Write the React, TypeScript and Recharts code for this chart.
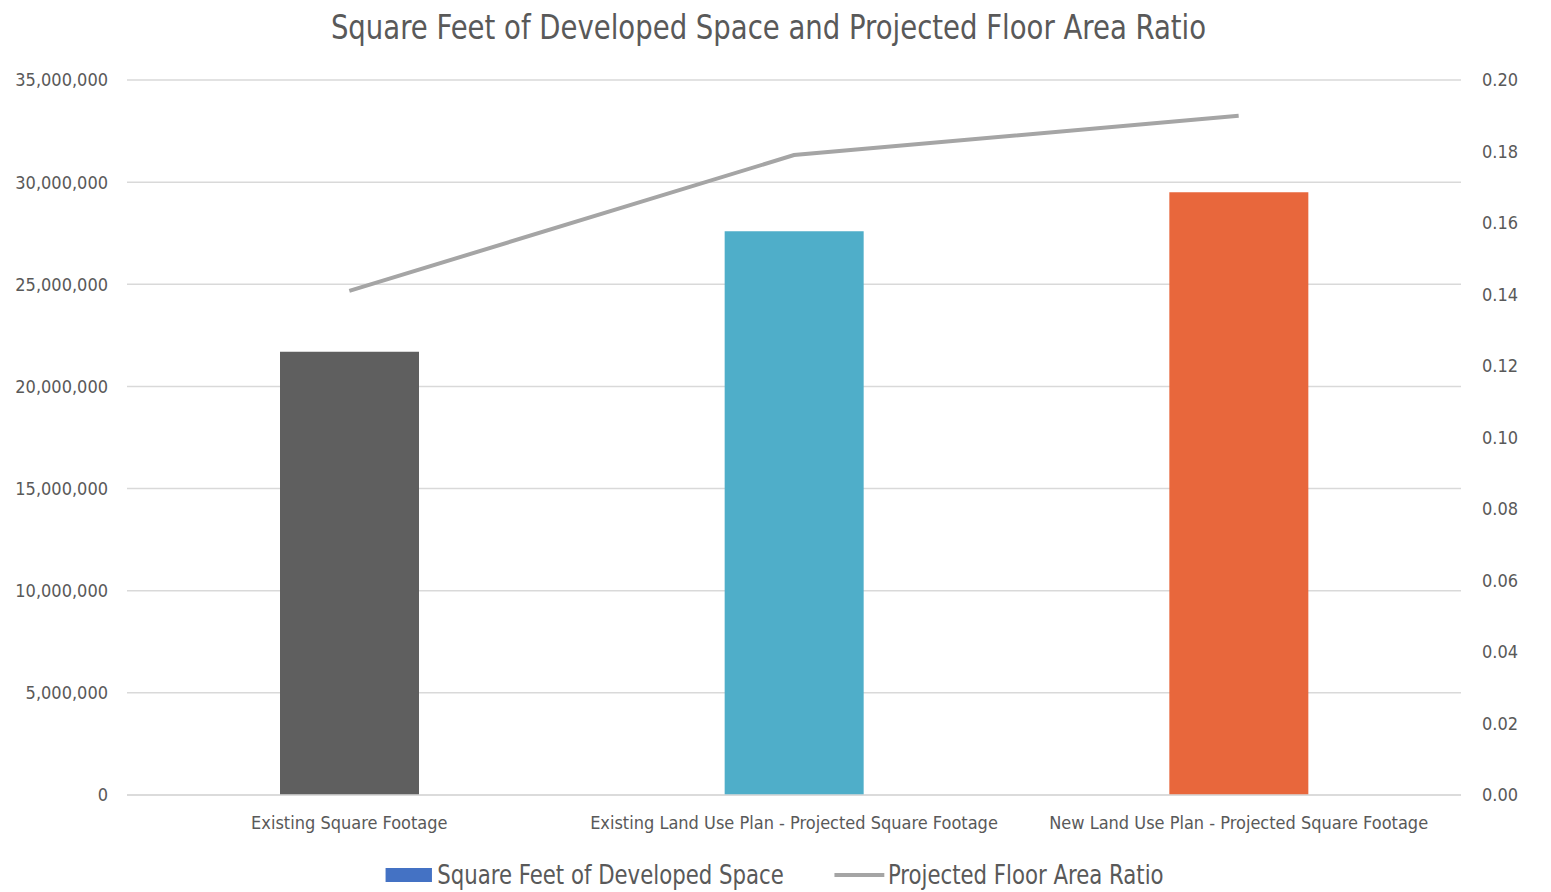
import { ComposedChart, Bar, Line, XAxis, YAxis, CartesianGrid, Cell, Legend } from 'recharts'

const categories = [
  'Existing Square Footage',
  'Existing Land Use Plan - Projected Square Footage',
  'New Land Use Plan - Projected Square Footage',
]
const squareFeet = [21700000, 27600000, 29500000]
const floorAreaRatio = [0.141, 0.179, 0.19]
const barColors = ['#5f5f5f', '#4faec9', '#e8673c']
const leftTicks = [0, 5000000, 10000000, 15000000, 20000000, 25000000, 30000000, 35000000]
const rightTicks = [0, 0.02, 0.04, 0.06, 0.08, 0.1, 0.12, 0.14, 0.16, 0.18, 0.2]

const data = categories.map((name, i) => ({
  name,
  sqft: squareFeet[i],
  far: floorAreaRatio[i],
}))

const FONT = "'DejaVu Sans Condensed', 'Liberation Sans Narrow', 'DejaVu Sans', sans-serif"
const TEXT = '#595959'

const fmtInt = (v: number) => v.toLocaleString('en-US')

// legend is squeezed horizontally so the wide fallback font fits like the narrow original
const LegendContent = () => (
  <div style={{ display: 'flex', justifyContent: 'center', marginTop: 24, marginLeft: -8 }}>
    <div style={{ display: 'flex', alignItems: 'center', gap: 58, fontFamily: FONT, fontStretch: 'condensed', fontSize: 27, color: TEXT, transform: 'scaleX(0.875)' }}>
      <div style={{ display: 'flex', alignItems: 'center', gap: 6 }}>
        <span style={{ display: 'inline-block', width: 53, height: 14, background: '#4472c4' }} />
        <span>Square Feet of Developed Space</span>
      </div>
      <div style={{ display: 'flex', alignItems: 'center', gap: 4 }}>
        <span style={{ display: 'inline-block', width: 57, height: 4, background: '#a5a5a5' }} />
        <span>Projected Floor Area Ratio</span>
      </div>
    </div>
  </div>
)

export default function App() {
  return (
    <div style={{ position: 'absolute', left: 0, top: 0, width: 1551, height: 892, background: '#fff' }}>
      <div style={{ position: 'absolute', left: -7, top: 7, width: 1551, textAlign: 'center', fontFamily: FONT, fontStretch: 'condensed', fontSize: 34, color: TEXT, transform: 'scaleX(0.9)' }}>
        Square Feet of Developed Space and Projected Floor Area Ratio
      </div>
      <ComposedChart
        width={1551}
        height={892}
        data={data}
        margin={{ top: 80, right: 10, bottom: 5, left: 17 }}
        style={{ fontFamily: FONT }}
      >
        <CartesianGrid yAxisId="left" vertical={false} stroke="#d9d9d9" strokeWidth={1.5} />
        <XAxis
          dataKey="name"
          height={40}
          axisLine={{ stroke: '#d9d9d9', strokeWidth: 1.5 }}
          tickLine={false}
          tick={{ fill: TEXT, fontSize: 18, fontStretch: 'condensed' }}
          tickMargin={15}
          interval={0}
        />
        <YAxis
          yAxisId="left"
          width={110}
          domain={[0, 35000000]}
          ticks={leftTicks}
          tickFormatter={fmtInt}
          axisLine={false}
          tickLine={false}
          tick={{ fill: TEXT, fontSize: 18, fontStretch: 'condensed' }}
          tickMargin={13}
        />
        <YAxis
          yAxisId="right"
          orientation="right"
          width={80}
          domain={[0, 0.2]}
          ticks={rightTicks}
          tickFormatter={(v: number) => v.toFixed(2)}
          axisLine={false}
          tickLine={false}
          tick={{ fill: TEXT, fontSize: 18, fontStretch: 'condensed' }}
          tickMargin={15}
        />
        <Legend verticalAlign="bottom" height={52} content={<LegendContent />} />
        <Bar yAxisId="left" dataKey="sqft" name="Square Feet of Developed Space" barSize={139} isAnimationActive={false}>
          {data.map((d, i) => (
            <Cell key={d.name} fill={barColors[i]} />
          ))}
        </Bar>
        <Line
          yAxisId="right"
          dataKey="far"
          name="Projected Floor Area Ratio"
          stroke="#a5a5a5"
          strokeWidth={4}
          dot={false}
          type="linear"
          isAnimationActive={false}
        />
      </ComposedChart>
    </div>
  )
}
